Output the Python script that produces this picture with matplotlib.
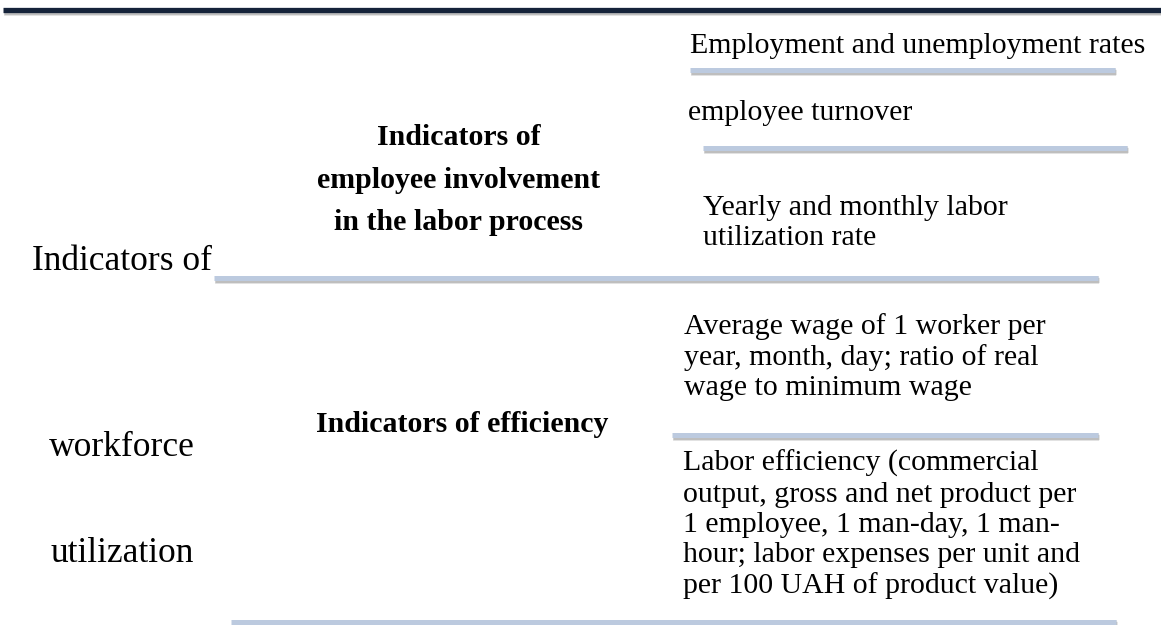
import matplotlib.pyplot as plt
import matplotlib.patheffects as pe

# Text content of the diagram
root_words = ['Indicators of', 'workforce', 'utilization']
groups = ['Indicators of\nemployee involvement\nin the labor process',
          'Indicators of efficiency']
items = ['Employment and unemployment rates',
         'employee turnover',
         'Yearly and monthly labor\nutilization rate',
         'Average wage of 1 worker per\nyear, month, day; ratio of real\nwage to minimum wage',
         'Labor efficiency (commercial\noutput, gross and net product per\n1 employee, 1 man-day, 1 man-\nhour; labor expenses per unit and\nper 100 UAH of product value)']

# Layout in pixel coordinates (x, y from top)
root_pos = [(122, 262), (122, 447), (122, 553)]
group_pos = [(459, 180), (462, 425)]
group_spacing = [1.75, 1.2]
item_pos = [(690, 46), (688, 113), (703, 223), (684, 357), (683, 525)]
separators = [(690, 1115, 70), (703, 1127, 148), (214, 1098, 278),
              (672, 1098, 435), (231, 1116, 622)]

plt.rcParams['font.family'] = ['Liberation Serif', 'DejaVu Serif']

fig = plt.figure(figsize=(11.61, 6.25), dpi=100)
ax = fig.add_axes([0, 0, 1, 1])
ax.set_xlim(0, 1161)
ax.set_ylim(625, 0)
ax.axis('off')

# soft drop shadow under each rule
shadow = [pe.Stroke(offset=(0.5, -1.5), linewidth=5.5, foreground='#b0b0b0', alpha=0.35),
          pe.Stroke(offset=(0.5, -1.5), linewidth=3.8, foreground='#9a9a9a', alpha=0.5),
          pe.Normal()]

# top rule
ax.plot([3, 1161], [10, 10], color='#15233a', lw=3.8, solid_capstyle='butt',
        path_effects=shadow)

for x0, x1, y in separators:
    ax.plot([x0, x1], [y, y], color='#bccadf', lw=3.6, solid_capstyle='butt',
            path_effects=shadow)

for word, (x, y) in zip(root_words, root_pos):
    ax.text(x, y, word, fontsize=25.5, ha='center', va='center', color='black')

for label, (x, y), ls in zip(groups, group_pos, group_spacing):
    ax.text(x, y, label, fontsize=21.5, fontweight='bold', ha='center', va='center',
            linespacing=ls, multialignment='center', color='black')

for label, (x, y) in zip(items, item_pos):
    ax.text(x, y, label, fontsize=21.5, ha='left', va='center',
            linespacing=1.21, color='black')

fig.savefig('out.png', dpi=100, facecolor='white')
